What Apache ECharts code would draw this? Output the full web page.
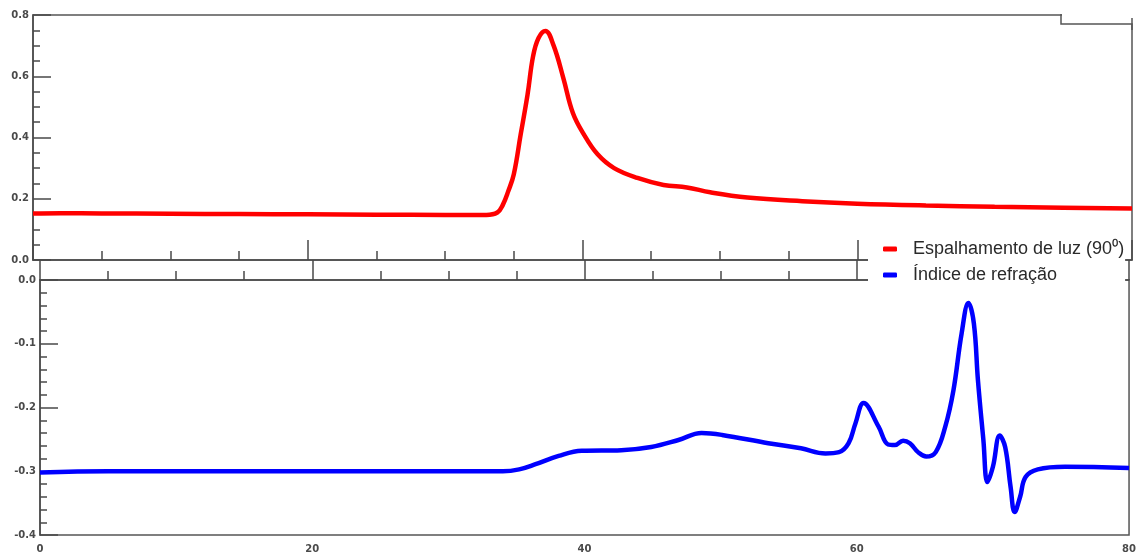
<!DOCTYPE html>
<html>
<head>
<meta charset="utf-8">
<script src="https://cdn.jsdelivr.net/npm/echarts@6/dist/echarts.min.js"></script>
<style>html,body{margin:0;padding:0;background:#fff}#c{width:1139px;height:557px}</style>
</head>
<body>
<div id="c"></div>
<script>
// Light scattering (90°) — top panel
const lsX = [0, 2, 5, 10, 15, 20, 25, 30, 33, 33.8, 34.2, 34.6, 35.0, 35.5, 36.0, 36.4, 36.8, 37.3, 37.9, 38.6, 39.3, 40.1, 41.1, 42.3, 44.0, 45.9, 47.6, 49.3, 52.0, 56, 60, 65, 70, 75, 80];
const lsY = [0.152, 0.153, 0.152, 0.151, 0.150, 0.149, 0.148, 0.147, 0.147, 0.155, 0.18, 0.225, 0.28, 0.41, 0.54, 0.665, 0.725, 0.748, 0.70, 0.595, 0.48, 0.41, 0.345, 0.30, 0.268, 0.245, 0.237, 0.221, 0.204, 0.192, 0.184, 0.178, 0.174, 0.171, 0.168];
// Refractive index — bottom panel
const riX = [0, 5, 10, 20, 30, 34, 35.2, 36.4, 38.1, 39.8, 42.7, 44.9, 46.9, 48.6, 50.1, 53.5, 55.9, 57.7, 58.7, 59.4, 59.9, 60.5, 61.6, 62.3, 62.8, 63.4, 63.9, 64.5, 65.1, 65.8, 66.5, 67.1, 67.7, 68.2, 68.6, 68.9, 69.3, 69.6, 70.0, 70.5, 70.9, 71.3, 71.6, 72.0, 72.4, 73.3, 75.3, 80];
const riY = [-0.302, -0.300, -0.300, -0.300, -0.300, -0.300, -0.297, -0.289, -0.276, -0.268, -0.267, -0.262, -0.251, -0.240, -0.243, -0.256, -0.264, -0.272, -0.270, -0.256, -0.225, -0.193, -0.230, -0.258, -0.259, -0.252, -0.256, -0.270, -0.277, -0.270, -0.230, -0.173, -0.084, -0.036, -0.068, -0.157, -0.251, -0.317, -0.293, -0.244, -0.262, -0.325, -0.364, -0.340, -0.309, -0.297, -0.293, -0.295];
const xTicks = ['0', '20', '40', '60', '80'];
const seriesNames = ['Espalhamento de luz (90\u2070)', '\u00cdndice de refra\u00e7\u00e3o'];

const lsData = lsX.map((x, i) => [x, lsY[i]]);
const riData = riX.map((x, i) => [x, riY[i]]);

const axisColor = '#4a4a4a';
const labelStyle = { fontFamily: 'DejaVu Sans', fontSize: 10, fontWeight: 'bold', color: '#4a4a4a' };

function xAxis(gridIndex, showLabel) {
  return {
    type: 'value', gridIndex, min: 0, max: 80, interval: 20,
    axisLine: { show: true, lineStyle: { color: axisColor, width: 1.5 } },
    axisTick: { show: true, inside: true, length: 20, lineStyle: { color: axisColor, width: 1.5 } },
    minorTick: { show: true, splitNumber: 4, length: 9, lineStyle: { color: axisColor, width: 1.5 } },
    splitLine: { show: false },
    axisLabel: Object.assign({ show: showLabel, margin: 9, formatter: v => xTicks[Math.round(v / 20)] }, labelStyle)
  };
}

const chart = echarts.init(document.getElementById('c'), null, { renderer: 'canvas' });
chart.setOption({
  animation: false,
  backgroundColor: '#fff',
  grid: [
    { left: 33, right: 7, top: 15, height: 245, show: true, borderColor: '#555', borderWidth: 1.5, backgroundColor: 'transparent' },
    { left: 40, right: 8, top: 280, height: 255, show: true, borderColor: '#555', borderWidth: 1.5, backgroundColor: 'transparent' }
  ],
  xAxis: [xAxis(0, false), xAxis(1, true)],
  yAxis: [
    {
      type: 'value', gridIndex: 0, min: 0, max: 0.8, interval: 0.2,
      axisLine: { show: true, lineStyle: { color: axisColor, width: 1.5 } },
      axisTick: { show: true, inside: true, length: 18, lineStyle: { color: axisColor, width: 1.5 } },
      minorTick: { show: true, splitNumber: 4, length: 7, lineStyle: { color: axisColor, width: 1.5 } },
      splitLine: { show: false },
      axisLabel: Object.assign({ margin: 4, formatter: v => v.toFixed(1) }, labelStyle)
    },
    {
      type: 'value', gridIndex: 1, min: -0.4, max: 0, interval: 0.1,
      axisLine: { show: true, lineStyle: { color: axisColor, width: 1.5 } },
      axisTick: { show: true, inside: true, length: 18, lineStyle: { color: axisColor, width: 1.5 } },
      minorTick: { show: true, splitNumber: 5, length: 7, lineStyle: { color: axisColor, width: 1.5 } },
      splitLine: { show: false },
      axisLabel: Object.assign({ margin: 4, formatter: v => v.toFixed(1) }, labelStyle)
    }
  ],
  legend: {
    orient: 'vertical', left: 868, top: 237, z: 20,
    backgroundColor: '#fff', padding: [3, 1, 8, 15],
    itemWidth: 14, itemHeight: 5, itemGap: 8, icon: 'roundRect',
    textStyle: { fontFamily: 'Liberation Sans', fontSize: 18, color: '#2a2a2a', padding: [0, 0, 0, 11], lineHeight: 18 },
    data: seriesNames
  },
  series: [
    {
      name: seriesNames[0], type: 'line', xAxisIndex: 0, yAxisIndex: 0, data: lsData,
      showSymbol: false, symbol: 'none', smooth: 0.4,
      lineStyle: { color: '#ff0000', width: 4.5 }, itemStyle: { color: '#ff0000' }
    },
    {
      name: seriesNames[1], type: 'line', xAxisIndex: 1, yAxisIndex: 1, data: riData,
      showSymbol: false, symbol: 'none', smooth: 0.4,
      lineStyle: { color: '#0000ff', width: 4.5 }, itemStyle: { color: '#0000ff' }
    }
  ],
  graphic: [
    { type: 'rect', z: 30, shape: { x: 1062, y: 12, width: 76, height: 6 }, style: { fill: '#fff' } },
    { type: 'polyline', z: 31, shape: { points: [[1061, 14], [1061, 24], [1132, 24], [1132, 30]] }, style: { stroke: '#555', lineWidth: 1.5, fill: null } }
  ]
});
</script>
</body>
</html>
